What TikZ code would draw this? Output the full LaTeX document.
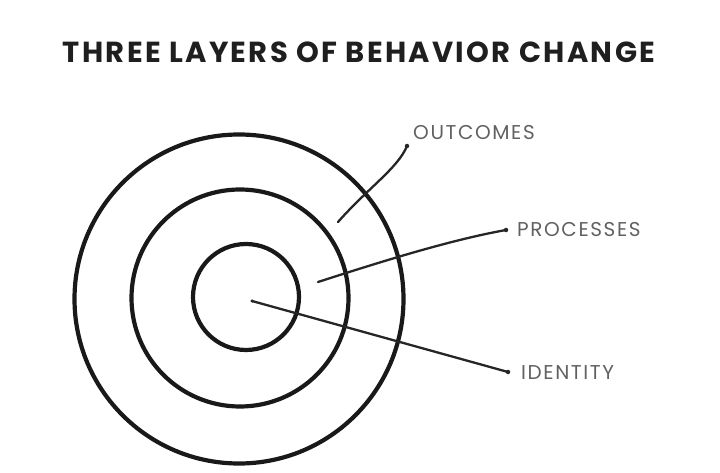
\documentclass[tikz,border=0pt]{standalone}
\usepackage{fontspec}
\setmainfont{Poppins}
\newfontfamily\titlefont[LetterSpace=8]{Poppins}
\newfontfamily\tagfont[LetterSpace=8]{Poppins}
\begin{document}
\begin{tikzpicture}[x=1pt,y=-1pt,
  ring/.style={draw=black!90,line width=4.2pt},
  lead/.style={draw=black!85,line width=2.3pt,line cap=round},
  tag/.style={font=\tagfont\fontsize{20}{20}\selectfont,text=black!62,inner sep=0pt,anchor=west},
  dotend/.style={fill=black!85,circle,inner sep=0pt,minimum size=4.5pt}]
\useasboundingbox (0,0) rectangle (720,473);
\node[font=\titlefont\bfseries\fontsize{29}{29}\selectfont,text=black!88,inner sep=0pt] (title) at (359,52) {THREE LAYERS OF BEHAVIOR CHANGE};
\node[ring,circle,minimum size=329pt,inner sep=0pt] (outer) at (239,299) {};
\node[ring,circle,minimum size=217pt,inner sep=0pt] (middle) at (240,298) {};
\node[ring,circle,minimum size=106pt,inner sep=0pt] (inner) at (246,297) {};
\node[tag] (out) at (413,133) {OUTCOMES};
\node[tag] (pro) at (517,230) {PROCESSES};
\node[tag] (ide) at (521,373) {IDENTITY};
\coordinate (a1) at (338,222);
\coordinate (a2) at (407,146);
\coordinate (b1) at (318,282);
\coordinate (b2) at (506,230);
\coordinate (c1) at (252,301);
\coordinate (c2) at (508,372);
\draw[lead] (a1) .. controls (368,188) and (398,168) .. (a2);
\draw[lead] (b1) .. controls (380,262) and (450,240) .. (b2);
\draw[lead] (c1) -- (c2);
\node[dotend] (d1) at (a2) {};
\node[dotend] (d2) at (b2) {};
\node[dotend] (d3) at (c2) {};
\node[dotend,minimum size=3.5pt] (d4) at (c1) {};
\end{tikzpicture}
\end{document}
